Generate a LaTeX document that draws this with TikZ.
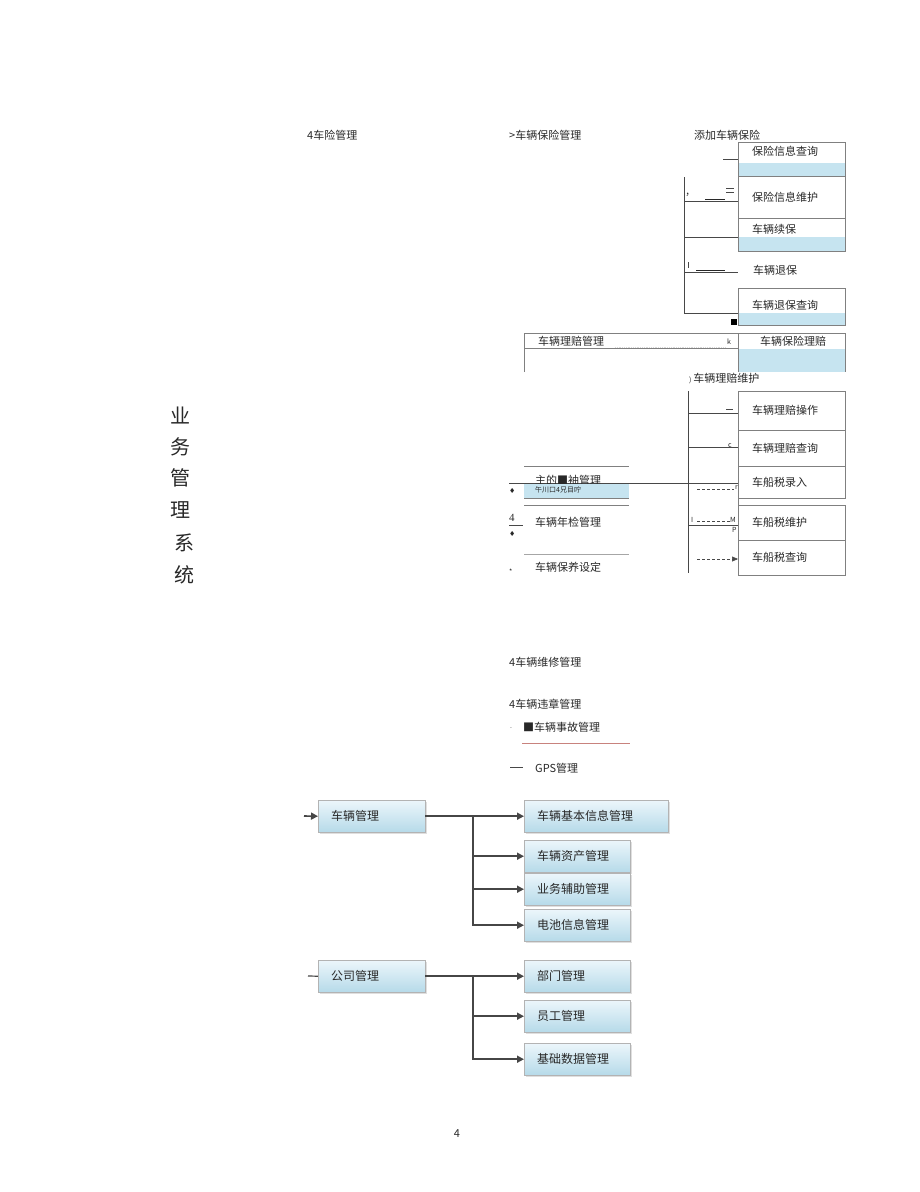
\documentclass[tikz,border=0pt]{standalone}
\usepackage{fontspec}
\setmainfont{Noto Sans CJK SC}
\newfontfamily\symfont{DejaVu Sans}
\newfontfamily\numfont{Liberation Serif}
\usetikzlibrary{arrows.meta,shadows,positioning}

\definecolor{bandblue}{RGB}{198,228,240}
\definecolor{boxtop}{RGB}{236,246,251}
\definecolor{boxbottom}{RGB}{182,218,233}
\definecolor{flowgray}{RGB}{70,70,70}
\definecolor{framegray}{RGB}{128,128,128}
\definecolor{rulered}{RGB}{200,130,125}
\definecolor{inkgray}{RGB}{40,40,40}

\tikzset{
  lbl/.style={anchor=west,inner sep=0pt,text=inkgray,font=\fontsize{11}{12}\selectfont},
  tinylbl/.style={anchor=west,inner sep=0pt,text=inkgray,font=\fontsize{7}{8}\selectfont},
  titlechar/.style={anchor=center,inner sep=0pt,text=inkgray,font=\fontsize{20}{21}\selectfont},
  frame/.style={draw=framegray,line width=0.7pt},
  band/.style={fill=bandblue},
  rule/.style={draw=inkgray!85,line width=0.7pt},
  thickrule/.style={draw=inkgray,line width=1.2pt},
  mgrbox/.style={draw=framegray!60,top color=boxtop,bottom color=boxbottom,
    drop shadow={shadow xshift=1.5pt,shadow yshift=-1.8pt,fill=black!25},
    anchor=north west,minimum height=32pt,inner xsep=13pt,inner ysep=0pt,
    align=left,text=inkgray,font=\fontsize{12}{13}\selectfont},
  flow/.style={draw=flowgray,line width=1.6pt,-{Triangle[length=7pt,width=7pt]}},
  flowline/.style={draw=flowgray,line width=1.6pt}
}

\begin{document}
\begin{tikzpicture}[x=1pt,y=-1pt]
\useasboundingbox (0,0) rectangle (920,1192);

% Drawing vertical title
\foreach \ch/\cx/\cy in {业/180/415,务/180/447,管/180/478,理/180/510,系/184/543,统/184/575}
  \node[titlechar] (title-\cy) at (\cx,\cy) {\ch};%

% Marking top headings
\node[lbl] (riskmgr) at (307,135) {4车险管理};%
\node[lbl] (insmgr) at (509,135) {>车辆保险管理};%
\node[lbl] (addins) at (694,135) {添加车辆保险};%

% Drawing insurance boxes
\fill[band] (738,163) rectangle (845,176);%
\fill[band] (738,237) rectangle (845,251);%
\fill[band] (738,313) rectangle (845,325);%
\draw[frame] (738,142) rectangle (845,176);%
\draw[frame] (738,176) rectangle (845,218);%
\draw[frame] (738,218) rectangle (845,251);%
\draw[frame] (738,288) rectangle (845,325);%
\node[lbl] (insquery) at (752,151) {保险信息查询};%
\node[lbl] (insmaint) at (752,197) {保险信息维护};%
\node[lbl] (renew) at (752,229) {车辆续保};%
\node[lbl] (refund) at (753,270) {车辆退保};%
\node[lbl] (refundq) at (752,305) {车辆退保查询};%

% Drawing insurance bracket
\draw[rule] (684,177) -- (684,313);%
\draw[rule] (723,159) -- (738,159);%
\draw[rule] (684,201) -- (738,201);%
\draw[rule] (684,237) -- (738,237);%
\draw[rule] (684,272) -- (738,272);%
\draw[rule] (684,313) -- (738,313);%
\draw[thickrule] (705,199.5) -- (725,199.5);%
\draw[rule] (726,188) -- (734,188);%
\draw[rule] (726,192) -- (734,192);%
\node[lbl] (comma) at (686,195) {,};%
\draw[rule] (688,262) -- (688,268);%
\draw[thickrule] (696,270.5) -- (725,270.5);%
\fill[black] (731,319) rectangle (737,325);%

% Drawing claim header
\fill[band] (738,349) rectangle (845,372);%
\draw[frame] (524,372) -- (524,333) -- (845,333) -- (845,372);%
\draw[frame] (524,348) -- (738,348);%
\draw[frame] (738,333) -- (738,372);%
\draw[gray!30,densely dotted,line width=0.8pt] (615,347) -- (725,347);%
\node[lbl] (claimmgr) at (538,341) {车辆理赔管理};%
\node[tinylbl] (kmark) at (727,342) {k};%
\node[lbl] (insclaim) at (760,341) {车辆保险理赔};%
\node[lbl] (claimmaint) at (689,379) {{\fontsize{7}{8}\selectfont )}\,车辆理赔维护};%

% Drawing claim and tax boxes
\draw[frame] (738,391) rectangle (845,430);%
\draw[frame] (738,430) rectangle (845,466);%
\draw[frame] (738,466) rectangle (845,498);%
\draw[frame] (738,505) rectangle (845,540);%
\draw[frame] (738,540) rectangle (845,575);%
\draw[frame] (738,498) -- (738,505);%
\node[lbl] (claimop) at (752,410) {车辆理赔操作};%
\node[lbl] (claimq) at (752,448) {车辆理赔查询};%
\node[lbl] (taxin) at (752,482) {车船税录入};%
\node[lbl] (taxmaint) at (752,522) {车船税维护};%
\node[lbl] (taxq) at (752,557) {车船税查询};%

% Drawing claim bracket
\draw[rule] (688,391) -- (688,573);%
\draw[rule] (688,413) -- (738,413);%
\draw[rule] (688,447) -- (738,447);%
\draw[rule] (688,525) -- (738,525);%
\draw[rule] (509,483) -- (738,483);%
\draw[rule] (726,409) -- (733,409);%
\node[tinylbl] (cmark) at (728,446) {c};%
\draw[rule,densely dashed,line width=0.5pt] (697,489) -- (734,489);%
\node[tinylbl] (rmark) at (735,488) {r};%
\node[tinylbl] (imark) at (691,520) {I};%
\draw[rule,densely dashed,line width=0.5pt] (697,521) -- (730,521);%
\node[tinylbl] (mmark) at (730,520) {M};%
\node[tinylbl] (pmark) at (732,530) {P};%
\draw[rule,densely dashed,line width=0.5pt,-{Triangle[length=6pt,width=5pt]}] (697,559) -- (738,559);%

% Drawing vehicle list
\draw[rule,draw=gray] (524,466) -- (629,466);%
\node[lbl] (repairmgr) at (535,480) {主的■袖管理};%
\fill[band] (524,484) rectangle (629,498);%
\node[tinylbl] (garbled) at (535,490) {午川口4兄目咛};%
\draw[rule,draw=gray] (524,498) -- (629,498);%
\draw[rule,draw=gray] (524,505) -- (629,505);%
\node[tinylbl] (dia1) at (509,491) {\symfont ♦};%
\node[lbl] (four) at (509,518) {\numfont 4};%
\draw[rule] (509,525) -- (523,525);%
\node[tinylbl] (dia2) at (509,534) {\symfont ♦};%
\node[lbl] (yearcheck) at (535,522) {车辆年检管理};%
\draw[gray!70,line width=0.8pt] (524,554) -- (629,554);%
\node[tinylbl] (star) at (509,572) {*};%
\node[lbl] (upkeep) at (535,567) {车辆保养设定};%

% Marking lower list
\node[lbl] (fixmgr) at (509,662) {4车辆维修管理};%
\node[lbl] (rulemgr) at (509,704) {4车辆违章管理};%
\node[tinylbl] (dot) at (510,728) {.};%
\node[lbl] (accidentmgr) at (523,727) {■车辆事故管理};%
\draw[rulered,line width=0.8pt] (522,743) -- (630,743);%
\draw[rule] (510,767) -- (523,767);%
\node[lbl] (gpsmgr) at (535,768) {GPS管理};%

% Drawing vehicle tree
\node[mgrbox,text width=81pt] (carmgr) at (318,800) {车辆管理};%
\node[mgrbox,text width=118pt] (carbasic) at (524,800) {车辆基本信息管理};%
\node[mgrbox,text width=80pt] (carasset) at (524,840) {车辆资产管理};%
\node[mgrbox,text width=80pt] (bizaux) at (524,873) {业务辅助管理};%
\node[mgrbox,text width=80pt] (battery) at (524,909) {电池信息管理};%
\coordinate (carin) at (304,816);%
\coordinate (carfork) at (473,816);%
\draw[flow] (carin) -- (carmgr.west);%
\draw[flow] (carmgr.east) -- (carbasic.west);%
\draw[flowline] (carfork) -- (carfork |- battery.west);%
\draw[flow] (carfork) |- (carasset.west);%
\draw[flow] (carfork) |- (bizaux.west);%
\draw[flow] (carfork) |- (battery.west);%

% Drawing company tree
\node[mgrbox,text width=81pt] (company) at (318,960) {公司管理};%
\node[mgrbox,text width=80pt] (dept) at (524,960) {部门管理};%
\node[mgrbox,text width=80pt] (staff) at (524,1000) {员工管理};%
\node[mgrbox,text width=80pt] (basedata) at (524,1043) {基础数据管理};%
\coordinate (compin) at (308,976);%
\coordinate (compfork) at (473,976);%
\draw[flowgray,line width=1.2pt] (compin) -- (company.west);%
\draw[flow] (company.east) -- (dept.west);%
\draw[flowline] (compfork) -- (compfork |- basedata.west);%
\draw[flow] (compfork) |- (staff.west);%
\draw[flow] (compfork) |- (basedata.west);%

% Marking page number
\node[anchor=center,inner sep=0pt,text=inkgray,font=\fontsize{11}{12}\selectfont] (pageno) at (457,1134) {4};%
\end{tikzpicture}
\end{document}
